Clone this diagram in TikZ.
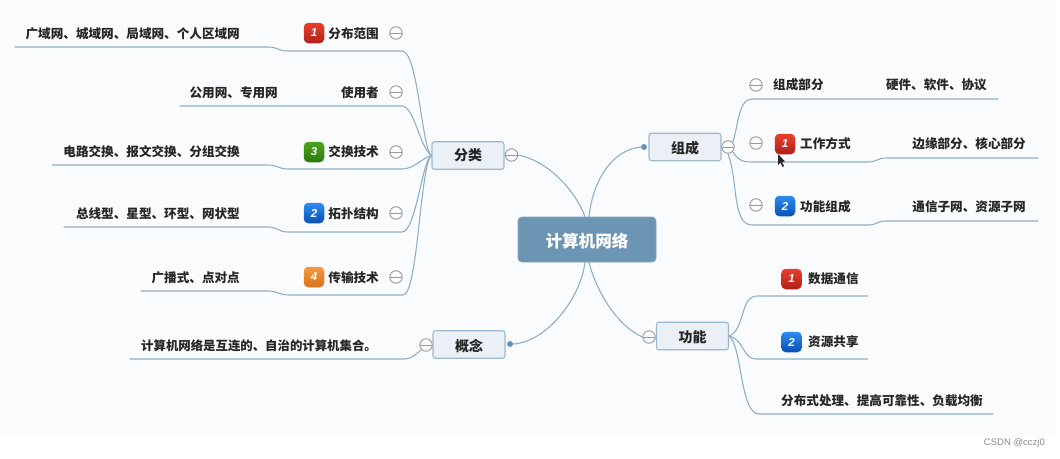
\documentclass[tikz,border=0pt]{standalone}
\usepackage{fontspec}
\setmainfont{Noto Sans CJK SC}
\newfontfamily\wmfont{Liberation Sans}
\definecolor{pagebg}{HTML}{FAFBFD}
\definecolor{linec}{HTML}{8FB0C8}
\definecolor{rootc}{HTML}{6C94B3}
\definecolor{boxfill}{HTML}{EAF0F6}
\definecolor{boxline}{HTML}{9DB9CF}
\definecolor{inkc}{HTML}{262626}
\definecolor{circc}{HTML}{9A9A9A}
\definecolor{redtop}{HTML}{E8402F}
\definecolor{redbot}{HTML}{B0201A}
\definecolor{greentop}{HTML}{4DA51E}
\definecolor{greenbot}{HTML}{2C7A0C}
\definecolor{bluetop}{HTML}{2E8DF0}
\definecolor{bluebot}{HTML}{0A4FB5}
\definecolor{orangetop}{HTML}{F59A3E}
\definecolor{orangebot}{HTML}{D9701A}
\newcommand{\lowbox}{\rule{0pt}{15pt}}
\newcommand{\lowroot}{\rule{0pt}{18pt}}
\tikzset{
  x=1pt,y=-1pt,
  conn/.style={draw=linec,line width=1.1pt,line cap=round},
  rootbox/.style={rectangle,rounded corners=4pt,fill=rootc,draw=rootc!85!white,line width=.8pt,minimum width=138pt,minimum height=45pt,inner sep=0pt,text=white,font=\fontsize{16.6}{18}\selectfont\bfseries},
  mainbox/.style={rectangle,rounded corners=2.5pt,fill=boxfill,draw=boxline,line width=1.1pt,minimum width=72pt,minimum height=27.5pt,inner sep=0pt,text=inkc,font=\fontsize{14}{16}\selectfont\bfseries},
  label/.style={inner sep=0pt,text=inkc,font=\fontsize{12.6}{14}\selectfont\bfseries},
  collapse/.style={circle,draw=circc,fill=pagebg,line width=.9pt,minimum size=12.5pt,inner sep=0pt,
    path picture={\draw[circc,line width=.9pt] ([xshift=-6pt]path picture bounding box.center) -- ([xshift=6pt]path picture bounding box.center);}},
  dotend/.style={circle,fill=rootc,minimum size=6pt,inner sep=0pt},
  badge/.style={rectangle,rounded corners=4.5pt,minimum size=20.5pt,inner sep=0pt,text=white,font=\wmfont\fontsize{11.5}{12}\selectfont\bfseries\itshape},
  redb/.style={badge,top color=redtop,bottom color=redbot},
  greenb/.style={badge,top color=greentop,bottom color=greenbot},
  blueb/.style={badge,top color=bluetop,bottom color=bluebot},
  orangeb/.style={badge,top color=orangetop,bottom color=orangebot},
}
\begin{document}
\begin{tikzpicture}
\useasboundingbox (0,0) rectangle (1060,458);
\fill[white] (0,0) rectangle (1060,458);
\fill[pagebg] (0,0) rectangle (1056,436);

% main nodes
\node[rootbox] (root) at (587,239.5) {\lowroot 计算机网络};
\node[mainbox] (fl) at (468,155.5) {分类};
\node[mainbox] (zc) at (685,147) {\lowbox 组成};
\node[mainbox] (gn) at (692.5,336) {\lowbox 功能};
\node[mainbox] (gnn) at (469,344.5) {\lowbox 概念};

% collapse marks
\node[collapse] (cfl) at (511.5,155) {};
\node[collapse] (czc) at (728,147) {};
\node[collapse] (cgn) at (649,337) {};
\node[collapse] (cgnn) at (426,345) {};
\node[collapse] (c1) at (396,33) {};
\node[collapse] (c2) at (396,92) {};
\node[collapse] (c3) at (396,152) {};
\node[collapse] (c4) at (396,213) {};
\node[collapse] (c5) at (396,277) {};
\node[collapse] (r1) at (756,85) {};
\node[collapse] (r2) at (756,143) {};
\node[collapse] (r3) at (756,205) {};

% end dots
\node[dotend] (dzc) at (644,147) {};
\node[dotend] (dgnn) at (510,344) {};

% root connectors
\draw[conn] (root.north) ++(-2,0) coordinate (rt1) (rt1) .. controls (575,190) and (548,161) .. (cfl.east);
\draw[conn] (root.north) ++(2,0) coordinate (rt2) (rt2) .. controls (593,180) and (612,150) .. (dzc.west);
\draw[conn] (root.south) ++(-2,0) coordinate (rb1) (rb1) .. controls (580,300) and (546,342) .. (dgnn.east);
\draw[conn] (root.south) ++(2,0) coordinate (rb2) (rb2) .. controls (596,290) and (616,325) .. (cgn.west);

% left branch ends
\coordinate (a1) at (402,51);  \coordinate (a2) at (288,51);  \coordinate (a3) at (268,47);  \coordinate (a4) at (15,47);
\coordinate (b1) at (402,106); \coordinate (b4) at (180,106);
\coordinate (d1) at (402,169); \coordinate (d2) at (288,169); \coordinate (d3) at (268,165); \coordinate (d4) at (52,165);
\coordinate (e1) at (402,232); \coordinate (e2) at (288,232); \coordinate (e3) at (268,227); \coordinate (e4) at (64,227);
\coordinate (f1) at (403,295); \coordinate (f2) at (290,295); \coordinate (f3) at (268,291); \coordinate (f4) at (141,291);
\coordinate (g1) at (405,359); \coordinate (g4) at (130,359);

\draw[conn] (fl.west) .. controls (422,150) and (418,51) .. (a1) -- (a2) .. controls (278,51) and (278,47) .. (a3) -- (a4);
\draw[conn] (fl.west) .. controls (420,148) and (414,106) .. (b1) -- (b4);
\draw[conn] (fl.west) .. controls (422,158) and (414,169) .. (d1) -- (d2) .. controls (278,169) and (278,165) .. (d3) -- (d4);
\draw[conn] (fl.west) .. controls (422,160) and (416,232) .. (e1) -- (e2) .. controls (278,232) and (278,227) .. (e3) -- (e4);
\draw[conn] (fl.west) .. controls (420,165) and (418,295) .. (f1) -- (f2) .. controls (278,295) and (278,291) .. (f3) -- (f4);
\draw[conn] (cgnn.south west) .. controls (416,354) and (411,359) .. (g1) -- (g4);

% right branch ends
\coordinate (h1) at (752,99);  \coordinate (h4) at (998,99);
\coordinate (i1) at (752,162); \coordinate (i2) at (868,162); \coordinate (i3) at (886,158); \coordinate (i4) at (1038,158);
\coordinate (j1) at (752,225); \coordinate (j2) at (868,225); \coordinate (j3) at (886,221); \coordinate (j4) at (1038,221);
\coordinate (k1) at (757,296); \coordinate (k4) at (868,296);
\coordinate (l1) at (757,359); \coordinate (l4) at (868,359);
\coordinate (m1) at (759,414); \coordinate (m4) at (993,414);

\draw[conn] (czc.north east) .. controls (738,128) and (738,99) .. (h1) -- (h4);
\draw[conn] (czc.south east) .. controls (738,160) and (742,162) .. (i1) -- (i2) .. controls (877,162) and (877,158) .. (i3) -- (i4);
\draw[conn] (czc.south) .. controls (738,180) and (732,225) .. (j1) -- (j2) .. controls (877,225) and (877,221) .. (j3) -- (j4);
\draw[conn] (gn.east) .. controls (745,330) and (740,296) .. (k1) -- (k4);
\draw[conn] (gn.east) .. controls (745,340) and (742,359) .. (l1) -- (l4);
\draw[conn] (gn.east) .. controls (742,345) and (740,414) .. (m1) -- (m4);

% left texts
\node[label,anchor=east] (t1a) at (240,34) {广域网、城域网、局域网、个人区域网};
\node[label,anchor=east] (t1b) at (379,34) {分布范围};
\node[label,anchor=east] (t2a) at (278,93) {公用网、专用网};
\node[label,anchor=east] (t2b) at (379,93) {使用者};
\node[label,anchor=east] (t3a) at (240,152) {电路交换、报文交换、分组交换};
\node[label,anchor=east] (t3b) at (379,152) {交换技术};
\node[label,anchor=east] (t4a) at (240,214) {总线型、星型、环型、网状型};
\node[label,anchor=east] (t4b) at (379,214) {拓扑结构};
\node[label,anchor=east] (t5a) at (240,278) {广播式、点对点};
\node[label,anchor=east] (t5b) at (379,278) {传输技术};
\node[label,anchor=west,font=\fontsize{12.4}{14}\selectfont\bfseries] (t6a) at (141,346) {计算机网络是互连的、自治的计算机集合。};

% right texts
\node[label,anchor=west] (u1a) at (773,85) {组成部分};
\node[label,anchor=east] (u1b) at (987,85) {硬件、软件、协议};
\node[label,anchor=west] (u2a) at (800,144) {工作方式};
\node[label,anchor=east] (u2b) at (1026,144) {边缘部分、核心部分};
\node[label,anchor=west] (u3a) at (800,207) {功能组成};
\node[label,anchor=east] (u3b) at (1026,207) {通信子网、资源子网};
\node[label,anchor=west] (v1) at (808,279) {数据通信};
\node[label,anchor=west] (v2) at (808,342) {资源共享};
\node[label,anchor=west] (v3) at (781,401) {分布式处理、提高可靠性、负载均衡};

% badges
\node[redb] (p1) at (314,33) {1};
\node[greenb] (p3) at (314,152) {3};
\node[blueb] (p2) at (314,213) {2};
\node[orangeb] (p4) at (314,277) {4};
\node[redb] (q1) at (785,144) {1};
\node[blueb] (q2) at (785,206) {2};
\node[redb] (w1) at (791.5,279) {1};
\node[blueb] (w2) at (791.5,342) {2};

% pointer
\fill[black!85] (778,154) -- (778,165) -- (780.5,162.5) -- (782.5,167) -- (784,166) -- (782,162) -- (785,161.5) -- cycle;

% watermark
\node[inner sep=0pt,anchor=east,text=black!45,font=\wmfont\fontsize{9.5}{11}\selectfont] (wm) at (1045,443.5) {CSDN @cczj0};
\end{tikzpicture}
\end{document}
